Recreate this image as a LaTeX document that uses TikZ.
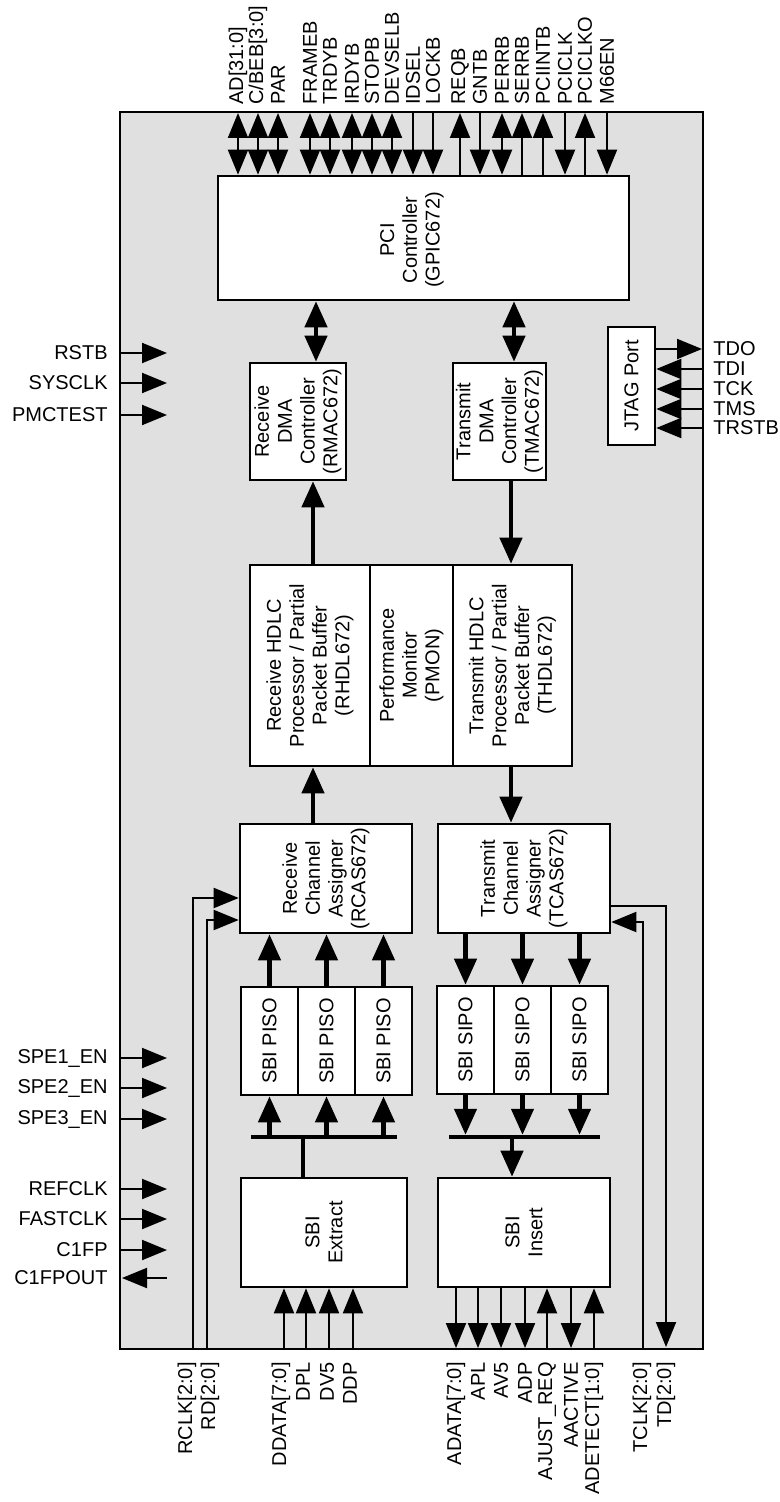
\documentclass[tikz,border=0pt]{standalone}
\usepackage{fontspec}
\setmainfont{Liberation Sans}
\usetikzlibrary{arrows.meta,fit}
\definecolor{panel}{HTML}{E0E0E0}
\begin{document}
\begin{tikzpicture}[x=0.5pt,y=-0.5pt,
  box/.style={draw, line width=1.3pt, fill=white, inner sep=0pt},
  txt/.style={font=\fontsize{10}{11.4}\selectfont, align=center, inner sep=0pt},
  pinlabel/.style={font=\fontsize{10}{11.4}\selectfont, inner sep=0pt},
  wire/.style={line width=1pt},
  fatwire/.style={line width=2.2pt},
  >={Triangle[length=12.5pt,width=10pt]},
  fatarr/.style={fatwire, -{Triangle[length=13pt,width=11pt]}},
  fatboth/.style={fatwire, {Triangle[length=13pt,width=11pt]}-{Triangle[length=13pt,width=11pt]}},
  bus/.style={line width=2.2pt}]
\useasboundingbox (0,0) rectangle (780,1502);
% chip outline
\node[draw, line width=1pt, fill=panel, inner sep=0pt, fit={(120,112) (703,1349)}] (chip) {};
% blocks
\node[box, fit={(218,176) (629,300)}] (pci) {};
\node[box, fit={(608,327) (655,445)}] (jtag) {};
\node[box, fit={(250,363) (346,480)}] (rdma) {};
\node[box, fit={(453,363) (546,480)}] (tdma) {};
\node[box, fit={(250,565) (370,766)}] (rhdl) {};
\node[box, fit={(370,565) (453,766)}] (pmon) {};
\node[box, fit={(453,565) (572,766)}] (thdl) {};
\node[box, fit={(240,824) (412,933)}] (rcas) {};
\node[box, fit={(438,824) (610,933)}] (tcas) {};
\node[box, fit={(241,987) (298,1095)}] (piso1) {};
\node[box, fit={(298,987) (355,1095)}] (piso2) {};
\node[box, fit={(355,987) (412,1095)}] (piso3) {};
\node[box, fit={(437,986) (494,1094)}] (sipo1) {};
\node[box, fit={(494,986) (551,1094)}] (sipo2) {};
\node[box, fit={(551,986) (608,1094)}] (sipo3) {};
\node[box, fit={(241,1178) (407,1287)}] (extract) {};
\node[box, fit={(438,1178) (610,1287)}] (insert) {};
% block texts
\node[txt, rotate=90] (pcit) at (412,240) {PCI\\Controller\\(GPIC672)};
\node[txt, rotate=90] (jtagt) at (jtag.center) {JTAG Port};
\node[txt, rotate=90] (rdmat) at (rdma.center) {Receive\\DMA\\Controller\\(RMAC672)};
\node[txt, rotate=90] (tdmat) at (tdma.center) {Transmit\\DMA\\Controller\\(TMAC672)};
\node[txt, rotate=90] (rhdlt) at (rhdl.center) {Receive HDLC\\Processor / Partial\\Packet Buffer\\(RHDL672)};
\node[txt, rotate=90] (pmont) at (pmon.center) {Performance\\Monitor\\(PMON)};
\node[txt, rotate=90] (thdlt) at (thdl.center) {Transmit HDLC\\Processor / Partial\\Packet Buffer\\(THDL672)};
\node[txt, rotate=90] (rcast) at (rcas.center) {Receive\\Channel\\Assigner\\(RCAS672)};
\node[txt, rotate=90] (tcast) at (tcas.center) {Transmit\\Channel\\Assigner\\(TCAS672)};
\foreach \n in {piso1,piso2,piso3} {\node[txt, rotate=90] (\n t) at (\n.center) {SBI PISO};}
\foreach \n in {sipo1,sipo2,sipo3} {\node[txt, rotate=90] (\n t) at (\n.center) {SBI SIPO};}
\node[txt, rotate=90] (extractt) at (extract.center) {SBI\\Extract};
\node[txt, rotate=90] (insertt) at (insert.center) {SBI\\Insert};
% internal data paths
\coordinate (pr) at (316,0);
\coordinate (pt) at (514,0);
\draw[fatboth] (pci.south -| pr) -- (rdma.north -| pr);
\draw[fatboth] (pci.south -| pt) -- (tdma.north -| pt);
\coordinate (hr) at (313,0);
\coordinate (ht) at (511,0);
\draw[fatarr] (rhdl.north -| hr) -- (rdma.south -| hr);
\draw[fatarr] (tdma.south -| ht) -- (thdl.north -| ht);
\draw[fatarr] (rcas.north -| hr) -- (rhdl.south -| hr);
\draw[fatarr] (thdl.south -| ht) -- (tcas.north -| ht);
\draw[fatarr] (piso1.north) -- (rcas.south -| piso1.north);
\draw[fatarr] (piso2.north) -- (rcas.south -| piso2.north);
\draw[fatarr] (piso3.north) -- (rcas.south -| piso3.north);
\draw[fatarr] (tcas.south -| sipo1.north) -- (sipo1.north);
\draw[fatarr] (tcas.south -| sipo2.north) -- (sipo2.north);
\draw[fatarr] (tcas.south -| sipo3.north) -- (sipo3.north);
% buses
\coordinate (rxbusL) at (251,1137);
\coordinate (rxbusR) at (397,1137);
\coordinate (txbusL) at (449,1137);
\coordinate (txbusR) at (600,1137);
\draw[bus] (rxbusL) -- (rxbusR);
\draw[bus] (txbusL) -- (txbusR);
\draw[fatarr] (rxbusL -| piso1.south) -- (piso1.south);
\draw[fatarr] (rxbusL -| piso2.south) -- (piso2.south);
\draw[fatarr] (rxbusL -| piso3.south) -- (piso3.south);
\draw[fatarr] (sipo1.south) -- ([yshift=1.1pt]txbusL -| sipo1.south);
\draw[fatarr] (sipo2.south) -- ([yshift=1.1pt]txbusL -| sipo2.south);
\draw[fatarr] (sipo3.south) -- ([yshift=1.1pt]txbusL -| sipo3.south);
\coordinate (ex) at (303,0);
\draw[fatwire] (extract.north -| ex) -- (rxbusL -| ex);
\coordinate (in) at (512,0);
\draw[fatarr] ([yshift=-1.1pt]txbusL -| in) -- (insert.north -| in);
% clock / data routing to channel assigners
\coordinate (rclkB) at (193,1349);
\coordinate (rdB) at (207,1349);
\coordinate (tclkB) at (643,1349);
\coordinate (tdB) at (666,1347);
\draw[wire,->] (rclkB) |- (rcas.west |- {0,898});
\draw[wire,->] (rdB) |- (rcas.west |- {0,920});
\draw[wire,->] (tclkB) |- (tcas.east |- {0,922});
\draw[wire,->] (tcas.east |- {0,906}) -| (tdB);
\node[pinlabel, rotate=90, anchor=east] (lrclk) at (187,1362) {RCLK[2:0]};
\node[pinlabel, rotate=90, anchor=east] (lrd) at (210,1362) {RD[2:0]};
\node[pinlabel, rotate=90, anchor=east] (ltclk) at (642,1362) {TCLK[2:0]};
\node[pinlabel, rotate=90, anchor=east] (ltd) at (666,1362) {TD[2:0]};
% top PCI pins: 0 both, 1 into PCI, 2 out of PCI
\foreach \x/\t/\d [count=\i] in {238/{AD[31:0]}/0, 258/{C/BEB[3:0]}/0, 278/PAR/0,
   310/FRAMEB/0, 330/TRDYB/0, 352/IRDYB/0, 372/STOPB/0, 392/DEVSELB/0,
   413/IDSEL/1, 433/LOCKB/1, 460/REQB/2, 480/GNTB/1, 502/PERRB/0,
   522/SERRB/2, 543/PCIINTB/2, 565/PCICLK/1, 585/PCICLKO/2, 607/M66EN/1} {
  \coordinate (tp\i) at (\x,113);
  \node[pinlabel, rotate=90, anchor=west] (tl\i) at (\x,105) {\t};
  \ifcase\d
    \draw[wire,<->] (tp\i) -- (tp\i |- pci.north);
  \or
    \draw[wire,->] (tp\i) -- (tp\i |- pci.north);
  \or
    \draw[wire,<-] (tp\i) -- (tp\i |- pci.north);
  \fi
}
% left pins: 1 input, 2 output
\foreach \y/\t/\d [count=\i] in {353/RSTB/1, 383/SYSCLK/1, 415/PMCTEST/1,
   1058/SPE1\_EN/1, 1088/SPE2\_EN/1, 1119/SPE3\_EN/1,
   1189/REFCLK/1, 1219/FASTCLK/1, 1250/C1FP/1, 1278/C1FPOUT/2} {
  \coordinate (lp\i) at (120,\y);
  \coordinate (le\i) at (167,\y);
  \node[pinlabel, anchor=east] (ll\i) at (108,\y) {\t};
  \ifnum\d=1
    \draw[wire,->] (lp\i) -- (le\i);
  \else
    \draw[wire,<-] ([xshift=1pt]lp\i) -- (le\i);
  \fi
}
% JTAG pins
\foreach \y/\t/\d [count=\i] in {349/TDO/2, 369/TDI/1, 389/TCK/1, 409/TMS/1, 428/TRSTB/1} {
  \coordinate (rp\i) at (702,\y);
  \node[pinlabel, anchor=west] (rl\i) at (713,\y) {\t};
  \ifnum\d=1
    \draw[wire,->] (rp\i) -- (jtag.east |- rp\i);
  \else
    \draw[wire,->] (jtag.east |- rp\i) -- (rp\i);
  \fi
}
% SBI Extract pins (inputs)
\foreach \x/\lx/\t [count=\i] in {284/281/{DDATA[7:0]}, 306/303/DPL, 329/327/DV5, 353/350/DDP} {
  \coordinate (ep\i) at (\x,1349);
  \node[pinlabel, rotate=90, anchor=east] (el\i) at (\lx,1362) {\t};
  \draw[wire,->] (ep\i) -- (ep\i |- extract.south);
}
% SBI Insert pins: 1 out of chip (down), 2 into block (up)
\foreach \x/\t/\d [count=\i] in {456/{ADATA[7:0]}/1, 478/APL/1, 501/AV5/1, 525/ADP/1,
   547/AJUST\_REQ/2, 571/AACTIVE/1, 594/{ADETECT[1:0]}/2} {
  \coordinate (ip\i) at (\x,1348);
  \node[pinlabel, rotate=90, anchor=east] (il\i) at (\x,1362) {\t};
  \ifnum\d=1
    \draw[wire,->] (ip\i |- insert.south) -- (ip\i);
  \else
    \draw[wire,->] (ip\i) -- (ip\i |- insert.south);
  \fi
}
\end{tikzpicture}
\end{document}
